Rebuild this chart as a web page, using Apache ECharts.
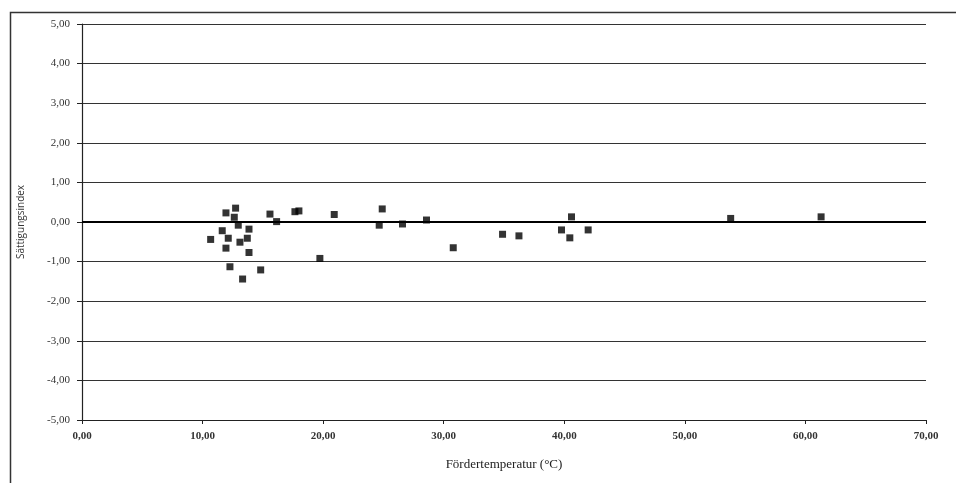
<!DOCTYPE html>
<html lang="de">
<head>
    <meta charset="UTF-8">
    <title>Sättigungsindex</title>
    <style>
        body,html{
            margin: 0;
            background: #fff;
        }
        #chart{
            width: 956px;
            height: 483px;
        }
    </style>
</head>
<body>
<div id="chart"></div>
<script src="https://cdn.jsdelivr.net/npm/echarts@6/dist/echarts.min.js"></script>
<script type="text/javascript">

    // Messwerte: Fördertemperatur (°C) und Sättigungsindex
    let temps = [11.94, 12.74, 12.63, 12.96, 11.63, 10.67, 12.13, 13.85, 13.71, 13.10,
                 11.94, 13.85, 12.27, 13.32, 14.82, 19.73, 15.59, 16.14, 17.66, 17.99,
                 20.92, 24.90, 24.65, 26.58, 28.57, 30.79, 34.88, 36.24, 39.77, 40.60,
                 40.46, 41.98, 53.80, 61.30];
    let indexValues = [0.23, 0.35, 0.12, -0.08, -0.22, -0.44, -0.41, -0.18, -0.41, -0.51,
                       -0.66, -0.77, -1.13, -1.44, -1.21, -0.92, 0.20, 0.01, 0.26, 0.28,
                       0.19, 0.33, -0.08, -0.05, 0.05, -0.65, -0.31, -0.35, -0.20, 0.13,
                       -0.40, -0.20, 0.09, 0.13];

    let xTitle = "Fördertemperatur (°C)";
    let yTitle = "Sättigungsindex";

    let points = [];
    for(let i=0;i<temps.length;i++){
        points.push([temps[i], indexValues[i]]);
    }

    function fmt(v) {   //Komma als Dezimaltrenner
        return v.toFixed(2).replace('.', ',');
    }

    let font = "'Liberation Serif', 'DejaVu Serif', serif";

    let myChart = echarts.init(document.getElementById("chart"));
    let option = {
        animation: false,
        backgroundColor: '#fff',
        grid: {
            left: 82,
            right: 30,
            top: 24,
            bottom: 63
        },
        graphic: [{
            type: 'rect',
            shape: {x: 10.5, y: 12.5, width: 980, height: 500},
            style: {fill: 'none', stroke: '#333', lineWidth: 1.5}
        }],
        xAxis: {
            type: 'value',
            min: 0,
            max: 70,
            interval: 10,
            name: xTitle,
            nameLocation: 'middle',
            nameGap: 38,
            nameTextStyle: {fontFamily: font, fontSize: 13, color: '#222'},
            axisLine: {onZero: false, lineStyle: {color: '#222', width: 1.2}},
            axisTick: {show: true, inside: false, length: 4, lineStyle: {color: '#222'}},
            axisLabel: {formatter: fmt, fontFamily: font, fontSize: 11, fontWeight: 'bold', color: '#333', margin: 11},
            splitLine: {show: false}
        },
        yAxis: {
            type: 'value',
            min: -5,
            max: 5,
            interval: 1,
            name: yTitle,
            nameLocation: 'middle',
            nameGap: 56,
            nameTextStyle: {fontFamily: "'Open Sans', sans-serif", fontSize: 10, color: '#333'},
            axisLine: {show: true, onZero: false, lineStyle: {color: '#222', width: 1.2}},
            axisTick: {show: true, length: 5, lineStyle: {color: '#222'}},
            axisLabel: {formatter: fmt, fontFamily: font, fontSize: 11, color: '#333', margin: 12},
            splitLine: {show: true, lineStyle: {color: '#333', width: 1.2}}
        },
        series: [{
            type: 'scatter',
            data: points,
            symbol: 'rect',
            symbolSize: 7,
            itemStyle: {color: '#000'},
            markLine: {
                silent: true,
                symbol: 'none',
                label: {show: false},
                lineStyle: {color: '#000', width: 2, type: 'solid'},
                data: [{yAxis: 0}]
            },
            z: 3
        }]
    };
    myChart.setOption(option);
</script>
</body>
</html>
